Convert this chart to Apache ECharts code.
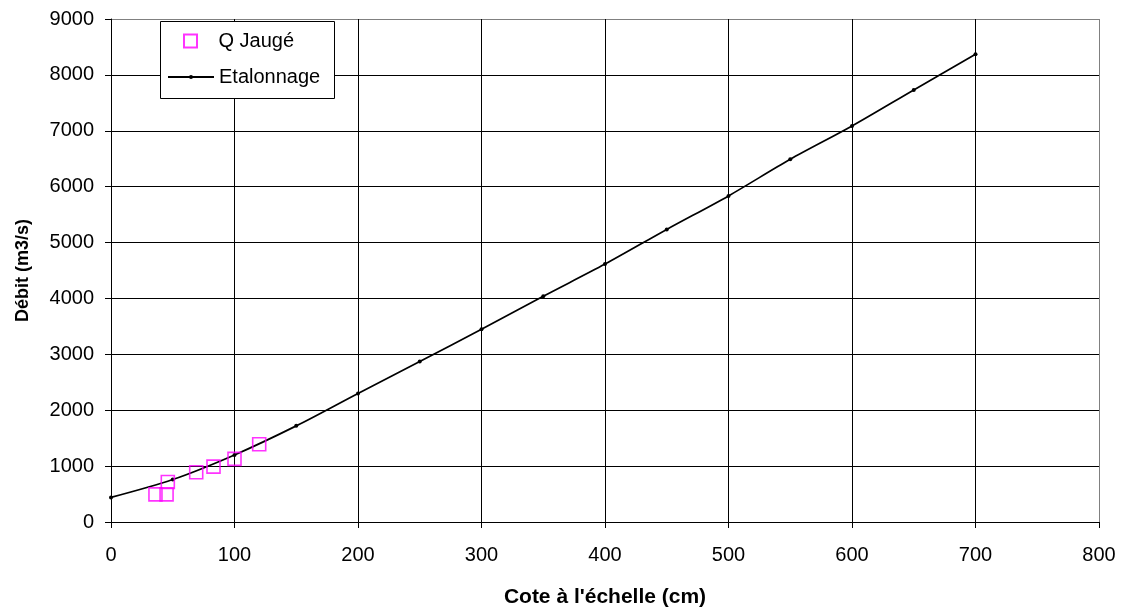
<!DOCTYPE html>
<html>
<head>
<meta charset="utf-8">
<script src="https://cdn.jsdelivr.net/npm/echarts@6/dist/echarts.min.js"></script>
<style>
  html, body { margin: 0; padding: 0; background: #fff; }
  #chart { width: 1125px; height: 614px; }
</style>
</head>
<body>
<div id="chart"></div>
<script>
// Rating curve (cote -> débit) and gauged discharges
const coteEtalonnage = [0, 50, 100, 150, 200, 250, 300, 350, 400, 450, 500, 550, 600, 650, 700];
const debitEtalonnage = [440, 760, 1200, 1720, 2300, 2870, 3450, 4040, 4615, 5235, 5835, 6490, 7085, 7730, 8370];

const coteJauge = [36, 45, 46, 69, 83, 100, 120];
const debitJauge = [495, 495, 715, 890, 990, 1130, 1390];

const xTicks = { min: 0, max: 800, interval: 100 };
const yTicks = { min: 0, max: 9000, interval: 1000 };

const FONT = 'Liberation Sans, Arial, sans-serif';
const TICK_SIZE = 20;

// split lines are black, the outermost one (plot frame) is grey
function splitColors(n) {
  const c = [];
  for (let i = 0; i < n; i++) c.push(i === n - 1 ? '#808080' : '#000000');
  return c;
}

const legendText = { fontFamily: FONT, fontSize: 20, lineHeight: 20, color: '#000' };

const chart = echarts.init(document.getElementById('chart'), null, { renderer: 'canvas' });

chart.setOption({
  animation: false,
  backgroundColor: '#ffffff',
  textStyle: { fontFamily: FONT, color: '#000' },
  grid: { left: 111, right: 26, top: 19, bottom: 92, show: false },
  // legend frame
  graphic: [{
    type: 'rect',
    left: 160, top: 21,
    z: 3,
    shape: { width: 174, height: 77 },
    style: { fill: '#ffffff', stroke: '#000000', lineWidth: 1 }
  }],
  legend: [
    {
      left: 183, top: 31, padding: 0,
      itemWidth: 46, itemHeight: 13,
      z: 5,
      textStyle: legendText,
      data: [{ name: 'Q Jaugé', icon: 'path://M0,0L10,0L10,10L0,10Z' }]
    },
    {
      left: 167, top: 67, padding: 0,
      itemWidth: 46, itemHeight: 5,
      z: 5,
      textStyle: legendText,
      data: ['Etalonnage']
    }
  ],
  xAxis: {
    type: 'value',
    min: xTicks.min, max: xTicks.max, interval: xTicks.interval,
    name: "Cote à l'échelle (cm)",
    nameLocation: 'middle',
    nameGap: 65,
    nameTextStyle: { fontFamily: FONT, fontSize: 21, fontWeight: 'bold', color: '#000' },
    axisLine: { show: true, lineStyle: { color: '#000', width: 1 } },
    axisTick: { show: true, inside: false, length: 6, lineStyle: { color: '#000' } },
    axisLabel: { fontFamily: FONT, fontSize: TICK_SIZE, color: '#000', margin: 23 },
    splitLine: { show: true, lineStyle: { color: splitColors(9), width: 1 } }
  },
  yAxis: {
    type: 'value',
    min: yTicks.min, max: yTicks.max, interval: yTicks.interval,
    name: 'Débit (m3/s)',
    nameLocation: 'middle',
    nameGap: 79,
    nameTextStyle: { fontFamily: FONT, fontSize: 18, fontWeight: 'bold', color: '#000' },
    axisLine: { show: true, lineStyle: { color: '#000', width: 1 } },
    axisTick: { show: true, inside: false, length: 6, lineStyle: { color: '#000' } },
    axisLabel: { fontFamily: FONT, fontSize: TICK_SIZE, color: '#000', margin: 17,
                 formatter: v => String(v) },
    splitLine: { show: true, lineStyle: { color: splitColors(10), width: 1 } }
  },
  series: [
    {
      name: 'Etalonnage',
      type: 'line',
      smooth: 0.3,
      symbol: 'circle',
      symbolSize: 4,
      showSymbol: true,
      itemStyle: { color: '#000' },
      lineStyle: { color: '#000', width: 1.7 },
      data: coteEtalonnage.map((x, i) => [x, debitEtalonnage[i]]),
      z: 3
    },
    {
      name: 'Q Jaugé',
      type: 'scatter',
      symbol: 'rect',
      symbolSize: 13,
      itemStyle: { color: 'rgba(0,0,0,0)', borderColor: '#FF00FF', borderWidth: 1.6 },
      data: coteJauge.map((x, i) => [x, debitJauge[i]]),
      z: 4
    }
  ]
});
</script>
</body>
</html>
